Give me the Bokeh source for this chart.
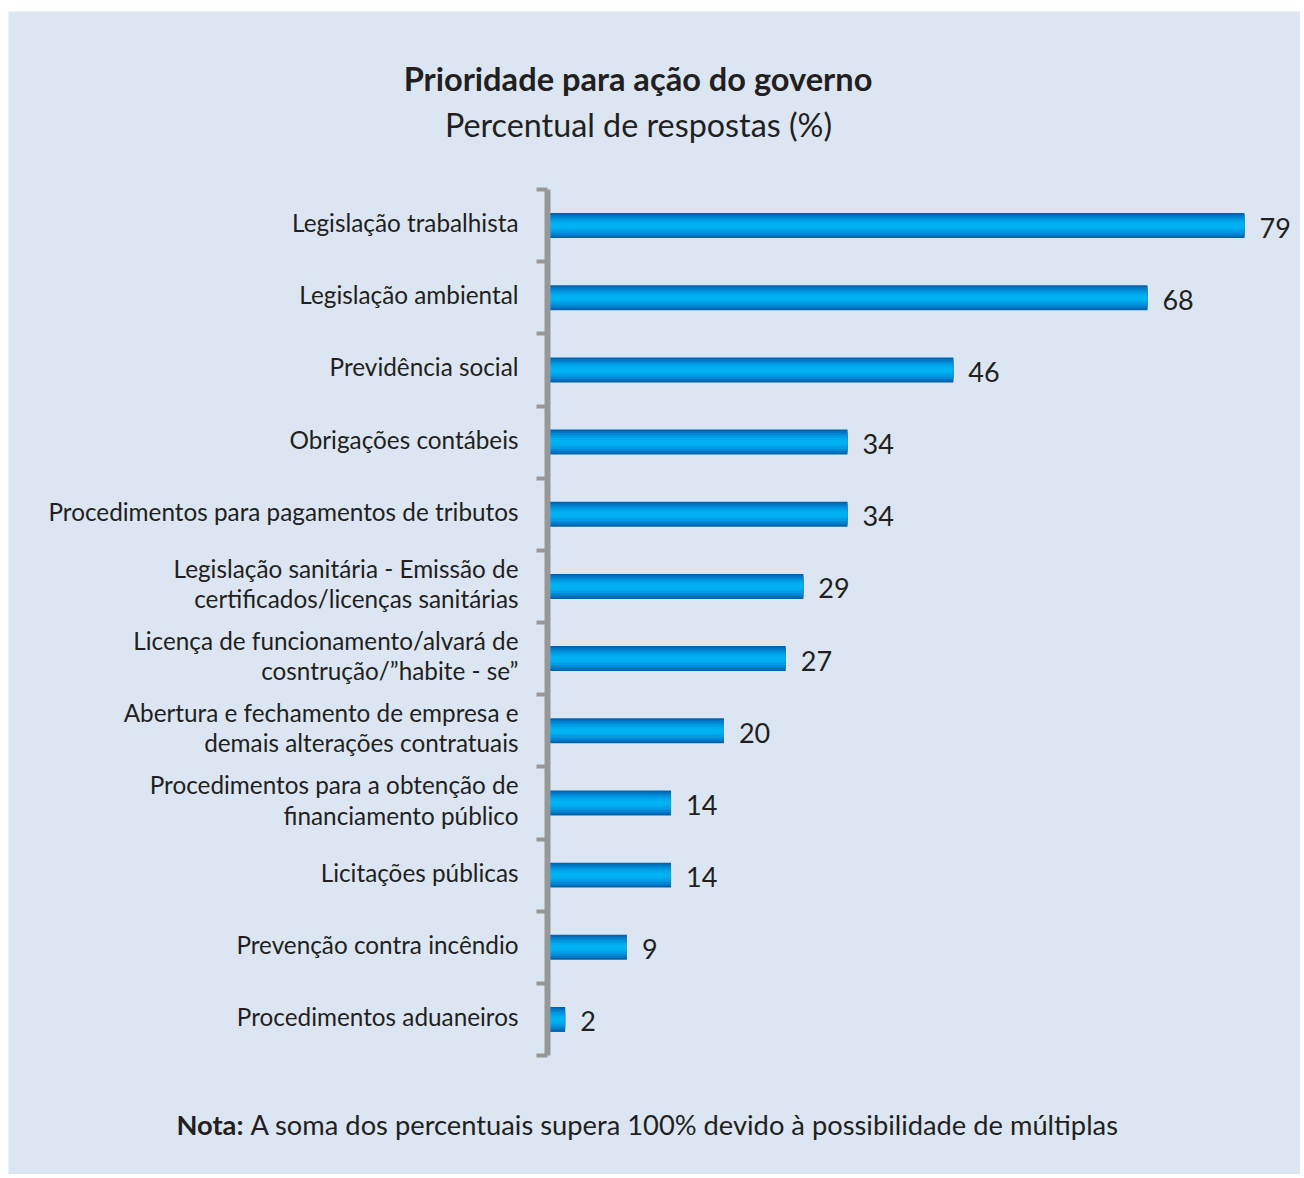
from bokeh.plotting import figure
from bokeh.models import Range1d, FixedTicker, ColumnDataSource, LinearAxis, Spacer
from bokeh.core.properties import value
from bokeh.layouts import column, row
from bokeh.embed import file_html
from bokeh.resources import INLINE

categories = [
    "Legislação trabalhista",
    "Legislação ambiental",
    "Previdência social",
    "Obrigações contábeis",
    "Procedimentos para pagamentos de tributos",
    "Legislação sanitária - Emissão de\ncertificados/licenças sanitárias",
    "Licença de funcionamento/alvará de\ncosntrução/\u201dhabite - se\u201d",
    "Abertura e fechamento de empresa e\ndemais alterações contratuais",
    "Procedimentos para a obtenção de\nfinanciamento público",
    "Licitações públicas",
    "Prevenção contra incêndio",
    "Procedimentos aduaneiros",
]
values = [79, 68, 46, 34, 34, 29, 27, 20, 14, 14, 9, 2]
value_labels = [str(v) for v in values]

title_text = "Prioridade para ação do governo"
subtitle_text = "Percentual de respostas (%)"
note_bold = "Nota:"
note_text = "A soma dos percentuais supera 100% devido à possibilidade de múltiplas"

FONT = value("Lato")
BG = "#dce6f2"
TXT = "#231f20"
n = len(categories)
ypos = list(range(n))

W, H = 1292, 1163
X0 = 539.0          # px from figure left to value 0
XS = 8.823          # px per percent
Y0 = 178.0          # px from figure top to top category boundary
YS = 72.17          # px per category

def xd(px):  # figure px -> data x
    return (px - X0) / XS

def yd(py):  # figure px -> data y (reversed)
    return -0.5 + (py - Y0) / YS

src = ColumnDataSource(dict(y=ypos, v=values, vl=value_labels, cat=categories, zero=[0] * n))

p = figure(width=W, height=H, output_backend="svg", toolbar_location=None,
           x_range=Range1d(xd(0), xd(W)), y_range=Range1d(yd(H), yd(0)),
           x_axis_location=None, y_axis_location=None,
           min_border=0)
p.background_fill_color = BG
p.border_fill_color = BG
p.outline_line_color = None
p.grid.visible = False

ya = LinearAxis(fixed_location=0, bounds=(-0.5, n - 0.5),
                ticker=FixedTicker(ticks=[k - 0.5 for k in range(n + 1)]))
ya.major_label_text_font_size = "0px"
ya.major_label_text_alpha = 0
ya.axis_line_width = 6
ya.axis_line_color = "#979797"
ya.major_tick_line_color = "#979797"
ya.major_tick_line_width = 4
ya.major_tick_out = 11
ya.major_tick_in = 0
ya.minor_tick_line_color = None

# bars with layered "gradient"
layers = [(0.346, "#0063ad"), (0.30, "#0075c2"), (0.25, "#0088d5"), (0.19, "#009be4"), (0.12, "#00aaee"), (0.06, "#00b2f2")]
for h, c in layers:
    p.hbar(y="y", right="v", left=0, height=h, source=src, fill_color=c, line_color=None)

p.add_layout(ya, "left")

p.text(x="v", y="y", text="vl", source=src, x_offset=15, y_offset=2,
       text_baseline="middle", text_align="left",
       text_font=FONT, text_font_size="27px", text_color=TXT)

p.text(x="zero", y="y", text="cat", source=src, x_offset=-29, y_offset=-3,
       text_baseline="middle", text_align="right", text_line_height=1.05,
       text_font=FONT, text_font_size="24.3px", text_color=TXT)

p.text(x=[xd(629.5)], y=[yd(67)], text=[title_text], text_align="center", text_baseline="middle",
       text_font=FONT, text_font_size="32.6px", text_font_style="bold", text_color=TXT)
p.text(x=[xd(630)], y=[yd(113)], text=[subtitle_text], text_align="center", text_baseline="middle",
       text_font=FONT, text_font_size="32.3px", text_color=TXT)
p.text(x=[xd(235)], y=[yd(1113)], text=[note_bold], text_align="right", text_baseline="middle",
       text_font=FONT, text_font_size="27.3px", text_font_style="bold", text_color=TXT)
p.text(x=[xd(242)], y=[yd(1113)], text=[note_text], text_align="left", text_baseline="middle",
       text_font=FONT, text_font_size="27.3px", text_color=TXT)

layout = column(Spacer(height=11), row(Spacer(width=8), p))
open("out.html", "w").write(file_html(layout, INLINE))
